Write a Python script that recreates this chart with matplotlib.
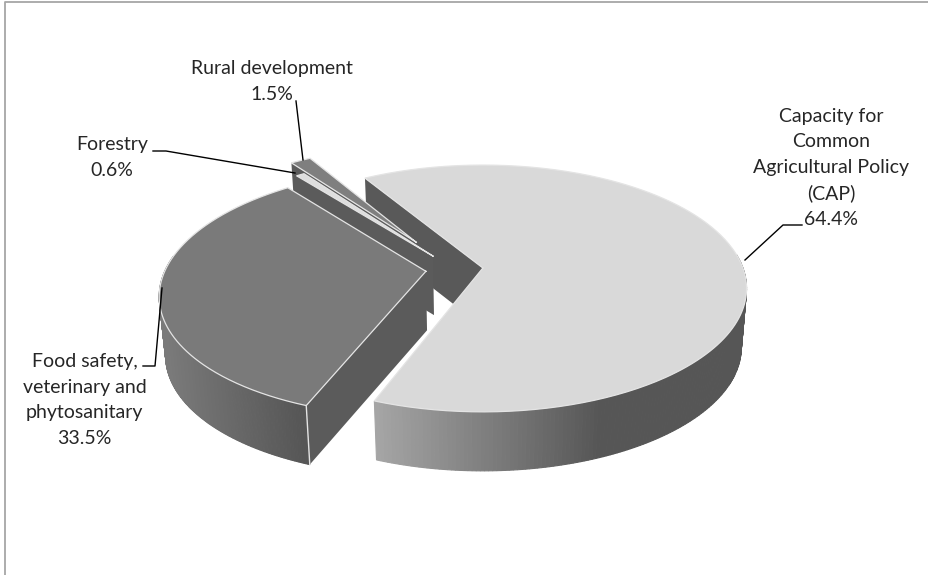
import numpy as np
import matplotlib
matplotlib.use('Agg')
import matplotlib.pyplot as plt

names = ['Capacity for\nCommon\nAgricultural Policy\n(CAP)', 'Food safety,\nveterinary and\nphytosanitary', 'Forestry', 'Rural development']
shares = [64.4, 33.5, 0.6, 1.5]
pulled = [0.11, 0.11, 0.14, 0.28]

top_cols = ['#d9d9d9', '#7a7a7a', '#dedede', '#7f7f7f']
wall_cols = ['#595959', '#5b5b5b', '#5b5b5b', '#5b5b5b']

# pixel geometry of the fake 3d view
cx, cy = 483, 268
ax0, by0, k = 260, 120, 0.166
depth = 59
shrink = 0.98
c0 = np.array([-0.11, -0.01])
start = 121.2


def proj(u, v):
    w = 1 + k * v
    return cx + ax0 * u / w, cy - by0 * v / w


def low(x):
    # the underside looks a bit smaller than the top
    return cx + (x - cx) * shrink


def rim(a1, a2, off, n=300):
    t = np.radians(np.linspace(a1, a2, n))
    return proj(np.cos(t) + off[0], np.sin(t) + off[1])


def gray(x, x1, x2, g1, g2):
    f = np.clip((x - x1) / (x2 - x1), 0, 1)
    g = g1 + (g2 - g1) * f
    return (g / 255, g / 255, g / 255)


fig = plt.figure(figsize=(9.29, 5.75), dpi=100)
ax = fig.add_axes([0, 0, 1, 1])
ax.set_xlim(0, 929)
ax.set_ylim(575, 0)
ax.axis('off')

# angles go clockwise from the start
edges = [start]
for s in shares:
    edges.append(edges[-1] - s * 3.6)

offs = []
for i in range(4):
    mid = np.radians((edges[i] + edges[i + 1]) / 2)
    offs.append(c0 + pulled[i] * np.array([np.cos(mid), np.sin(mid)]))

shade = {0: (376, 600, 165, 86), 1: (165, 300, 122, 86)}
line = '#e4e4e4'

# the inner wall of CAP sits behind everything
x, y = rim(edges[0], edges[1], offs[0])
ox, oy = proj(offs[0][0], offs[0][1])
ax.fill([ox, x[0], low(x[0]), low(ox)], [oy, y[0], y[0] + depth, oy + depth], color=wall_cols[0], lw=0)

# back to front
for i in [3, 2, 1, 0]:
    a1, a2 = edges[i], edges[i + 1]
    x, y = rim(a1, a2, offs[i])
    ox, oy = proj(offs[i][0], offs[i][1])
    if i != 0:
        ax.fill([ox, x[0], low(x[0]), low(ox)], [oy, y[0], y[0] + depth, oy + depth], color=wall_cols[i], lw=0)
    # outer wall, only the front part shows
    for j in range(len(x) - 1):
        if i in shade:
            col = gray((x[j] + x[j + 1]) / 2, *shade[i])
        else:
            col = wall_cols[i]
        front = np.sin(np.radians(a1 + (a2 - a1) * j / (len(x) - 1))) < 0.12
        if front:
            ax.fill([x[j], x[j + 1], low(x[j + 1]), low(x[j])], [y[j], y[j + 1], y[j + 1] + depth, y[j] + depth],
                    color=col, lw=0.8, ec=col)
    if i == 1:
        ax.plot([x[0], low(x[0])], [y[0], y[0] + depth], color=line, lw=1)
    ax.fill(np.r_[ox, x], np.r_[oy, y], color=top_cols[i], lw=0)
    ax.plot(np.r_[ox, x, ox], np.r_[oy, y, oy], color=line, lw=0.9, solid_joinstyle='miter')

# chart frame, only left and top show
ax.plot([5, 5, 929], [575, 1.5, 1.5], color='#a6a6a6', lw=1.3)

# leader lines
ax.plot([745, 783, 802], [260, 225, 225], color='black', lw=1)
ax.plot([162, 155, 143], [288, 366, 366], color='black', lw=1)
ax.plot([153, 166, 295], [151, 151, 173], color='black', lw=1)
ax.plot([296, 303], [101, 160], color='black', lw=1)

font = dict(family='Lato', fontsize=14, color='#262626', ha='center', va='center', linespacing=1.6)
ax.text(831, 168, names[0] + '\n%.1f%%' % shares[0], **font)
ax.text(84.5, 400, names[1] + '\n%.1f%%' % shares[1], **font)
ax.text(112, 157.5, names[2] + '\n%.1f%%' % shares[2], **font)
ax.text(271.5, 81.5, names[3] + '\n%.1f%%' % shares[3], **font)

fig.savefig('out.png', dpi=100)
